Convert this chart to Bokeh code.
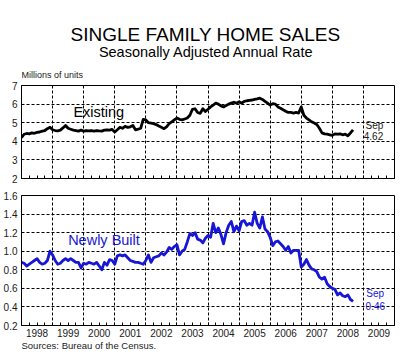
from bokeh.plotting import figure
from bokeh.layouts import column
from bokeh.models import Label, FixedTicker, Range1d
from bokeh.embed import file_html
from bokeh.resources import INLINE

# ---- data (monthly, Jan 1998 - Sep 2008, millions of units, SAAR) ----
existing = [
    4.20, 4.38, 4.42, 4.40, 4.45, 4.43, 4.48, 4.50, 4.55, 4.58, 4.68, 4.75,   # 1998
    4.62, 4.58, 4.56, 4.60, 4.72, 4.85, 4.70, 4.65, 4.60, 4.58, 4.55, 4.60,   # 1999
    4.55, 4.58, 4.56, 4.58, 4.55, 4.58, 4.56, 4.55, 4.60, 4.62, 4.60, 4.64,   # 2000
    4.50, 4.62, 4.75, 4.70, 4.80, 4.75, 4.78, 4.85, 4.62, 4.65, 4.70, 5.18,   # 2001
    5.15, 5.00, 4.98, 4.95, 4.90, 4.82, 4.75, 4.68, 4.78, 4.95, 5.05, 5.15,   # 2002
    5.25, 5.18, 5.15, 5.20, 5.25, 5.40, 5.72, 5.75, 5.55, 5.50, 5.75, 5.60,   # 2003
    5.72, 5.85, 5.95, 6.05, 6.00, 5.90, 5.85, 5.92, 6.00, 6.05, 6.10, 6.05,   # 2004
    6.12, 6.05, 6.15, 6.18, 6.20, 6.22, 6.25, 6.28, 6.32, 6.25, 6.15, 6.05,   # 2005
    5.95, 6.02, 6.00, 5.85, 5.78, 5.70, 5.62, 5.55, 5.55, 5.52, 5.55, 5.52,   # 2006
    5.85, 5.40, 5.25, 5.15, 5.05, 4.98, 4.90, 4.70, 4.45, 4.40, 4.38, 4.35,   # 2007
    4.32, 4.40, 4.38, 4.40, 4.35, 4.38, 4.30, 4.45, 4.62,                     # 2008
]
newly_built = [
    0.88, 0.87, 0.84, 0.86, 0.88, 0.90, 0.92, 0.88, 0.86, 0.87, 0.90, 1.00,   # 1998
    0.96, 0.90, 0.86, 0.87, 0.90, 0.92, 0.90, 0.92, 0.90, 0.88, 0.88, 0.82,   # 1999
    0.87, 0.86, 0.88, 0.87, 0.86, 0.88, 0.84, 0.80, 0.88, 0.85, 0.91, 0.90,   # 2000
    0.86, 0.95, 0.96, 0.95, 0.96, 0.93, 0.90, 0.89, 0.88, 0.88, 0.87, 0.86,   # 2001
    0.90, 0.96, 0.88, 0.93, 0.94, 0.95, 0.98, 0.96, 0.99, 1.04, 1.02, 1.05,   # 2002
    1.07, 0.96, 1.00, 1.02, 1.10, 1.19, 1.17, 1.20, 1.13, 1.12, 1.09, 1.14,   # 2003
    1.17, 1.15, 1.30, 1.20, 1.25, 1.18, 1.08, 1.20, 1.28, 1.32, 1.21, 1.27,   # 2004
    1.22, 1.32, 1.33, 1.28, 1.30, 1.28, 1.42, 1.30, 1.25, 1.37, 1.24, 1.21,   # 2005
    1.15, 1.06, 1.10, 1.11, 1.08, 1.05, 1.01, 1.05, 0.98, 1.01, 1.01, 1.01,   # 2006
    0.83, 0.86, 0.91, 0.85, 0.81, 0.80, 0.78, 0.72, 0.70, 0.72, 0.65, 0.62,   # 2007
    0.60, 0.59, 0.53, 0.55, 0.52, 0.51, 0.53, 0.48, 0.46,                     # 2008
]
year_labels = ["1998", "1999", "2000", "2001", "2002", "2003",
               "2004", "2005", "2006", "2007", "2008", "2009"]
top_ticks = [2, 3, 4, 5, 6, 7]
bottom_ticks = [0.2, 0.4, 0.6, 0.8, 1.0, 1.2, 1.4, 1.6]
bottom_tick_labels = ["0.2", "0.4", "0.6", "0.8", "1.0", "1.2", "1.4", "1.6"]

months = [1998 + i / 12 for i in range(len(existing))]
x_start = int(year_labels[0])
x_end = int(year_labels[-1]) + 1

FONT = "Liberation Sans"
BLUE = "#1616d4"
TXT = "#1a1a1a"
LEFT, FRAME_W, RIGHT = 21, 373, 15

mid_years = [int(y) + 0.5 for y in year_labels]
year_bounds = [int(y) for y in year_labels[1:]]
quarters = [x_start + q / 4 for q in range((x_end - x_start) * 4 + 1)]


def blank(height):
    # canvas-pixel coordinates: x = page x, y = distance from the strip's top
    f = figure(title=None, frame_width=FRAME_W, frame_height=height,
               x_range=Range1d(LEFT, LEFT + FRAME_W), y_range=Range1d(height, 0),
               x_axis_type=None, y_axis_type=None,
               output_backend="svg", toolbar_location=None,
               min_border_left=LEFT, min_border_right=RIGHT,
               min_border_top=0, min_border_bottom=0)
    f.outline_line_color = None
    f.xgrid.visible = False
    f.ygrid.visible = False
    f.background_fill_color = "white"
    f.border_fill_color = "white"
    return f


def style(p, yticks, ygrid, overrides=None, show_x_labels=True):
    p.outline_line_color = "black"
    p.outline_line_width = 1
    p.background_fill_color = "white"
    p.border_fill_color = "white"
    xa = p.xaxis[0]
    if show_x_labels:
        xa.ticker = FixedTicker(ticks=mid_years, minor_ticks=quarters)
        xa.major_label_overrides = {m: y for m, y in zip(mid_years, year_labels)}
    else:
        xa.ticker = FixedTicker(ticks=[], minor_ticks=quarters)
    xa.major_tick_in = 0
    xa.major_tick_out = 0
    xa.minor_tick_in = 3
    xa.minor_tick_out = 0
    xa.minor_tick_line_color = "black"
    xa.axis_line_color = "black"
    xa.major_label_text_font = FONT
    xa.major_label_text_font_size = "10px"
    xa.major_label_text_color = TXT
    xa.major_label_standoff = 3
    ya = p.yaxis[0]
    ya.ticker = FixedTicker(ticks=yticks)
    if overrides:
        ya.major_label_overrides = overrides
    ya.major_tick_in = 0
    ya.major_tick_out = 0
    ya.minor_tick_in = 0
    ya.minor_tick_out = 0
    ya.axis_line_color = "black"
    ya.major_label_text_font = FONT
    ya.major_label_text_font_size = "10px"
    ya.major_label_text_color = TXT
    ya.major_label_standoff = 4
    p.xgrid.ticker = FixedTicker(ticks=year_bounds)
    p.ygrid.ticker = FixedTicker(ticks=ygrid)
    for g in (p.xgrid[0], p.ygrid[0]):
        g.grid_line_color = "black"
        g.grid_line_dash = "3 2"
        g.grid_line_width = 1


# ---- header (titles) ----
header = blank(79)
header.add_layout(Label(x=205, y=34, text="SINGLE FAMILY HOME SALES",
                        text_align="center", text_baseline="alphabetic",
                        text_font=FONT, text_font_size="19px", text_color="black"))
header.add_layout(Label(x=206, y=51, text="Seasonally Adjusted Annual Rate",
                        text_align="center", text_baseline="alphabetic",
                        text_font=FONT, text_font_size="14.5px", text_color="black"))
header.add_layout(Label(x=21, y=74.5, text="Millions of units",
                        text_align="left", text_baseline="alphabetic",
                        text_font=FONT, text_font_size="9px", text_color=TXT))

# ---- top panel: existing ----
p1 = figure(title=None, frame_width=FRAME_W, frame_height=93,
            x_range=Range1d(x_start, x_end), y_range=Range1d(2, 7),
            output_backend="svg", toolbar_location=None,
            min_border_left=LEFT, min_border_right=RIGHT,
            min_border_top=6, min_border_bottom=8)
style(p1, top_ticks, top_ticks[1:-1], show_x_labels=False)
p1.line(months, existing, line_color="black", line_width=2.8, line_join="round")

p1.add_layout(Label(x=1999.67, y=5.60, text="Existing",
                    text_align="left", text_baseline="alphabetic",
                    text_font=FONT, text_font_size="14.5px", text_color="black"))
p1.add_layout(Label(x=2009.07, y=4.87, text="Sep",
                    text_align="left", text_baseline="alphabetic",
                    text_font=FONT, text_font_size="10px", text_color=TXT))
p1.add_layout(Label(x=2009.01, y=4.28, text=f"{existing[-1]:.2f}",
                    text_align="left", text_baseline="alphabetic",
                    text_font=FONT, text_font_size="10px", text_color=TXT))

# ---- bottom panel: newly built ----
p2 = figure(title=None, frame_width=FRAME_W, frame_height=130,
            x_range=Range1d(x_start, x_end), y_range=Range1d(0.2, 1.6),
            output_backend="svg", toolbar_location=None,
            min_border_left=LEFT, min_border_right=RIGHT,
            min_border_top=9, min_border_bottom=14)
style(p2, bottom_ticks, bottom_ticks[1:-1],
      {t: s for t, s in zip(bottom_ticks, bottom_tick_labels)})
p2.line(months, newly_built, line_color=BLUE, line_width=2.8, line_join="round")

p2.add_layout(Label(x=1999.5, y=1.12, text="Newly Built",
                    text_align="left", text_baseline="alphabetic",
                    text_font=FONT, text_font_size="14.5px", text_color=BLUE))
p2.add_layout(Label(x=2009.09, y=0.546, text="Sep",
                    text_align="left", text_baseline="alphabetic",
                    text_font=FONT, text_font_size="10px", text_color=BLUE))
p2.add_layout(Label(x=2009.07, y=0.41, text=f"{newly_built[-1]:.2f}",
                    text_align="left", text_baseline="alphabetic",
                    text_font=FONT, text_font_size="10px", text_color=BLUE))

# ---- footer (source) ----
footer = blank(16)
footer.add_layout(Label(x=21, y=5.5, text="Sources:  Bureau of the Census.",
                        text_align="left", text_baseline="alphabetic",
                        text_font=FONT, text_font_size="9.5px", text_color=TXT))

layout = column(header, p1, p2, footer, spacing=0)
open("out.html", "w").write(file_html(layout, INLINE))
